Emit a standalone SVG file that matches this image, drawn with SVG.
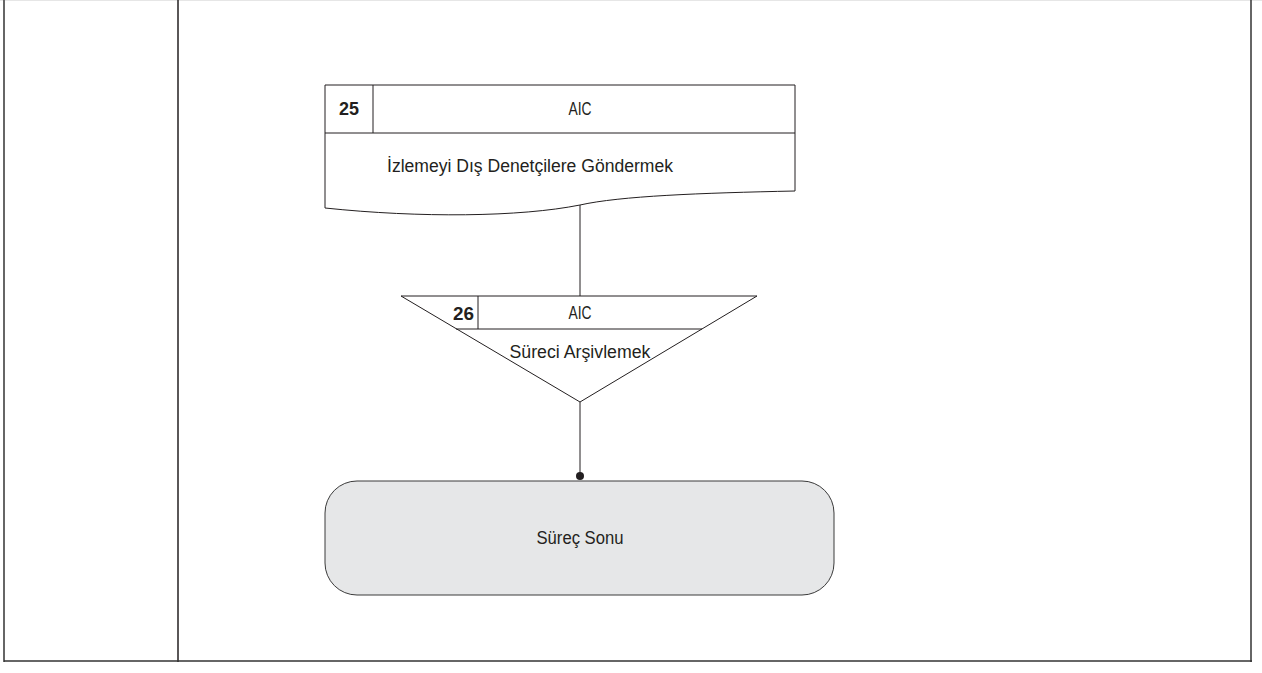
<svg xmlns="http://www.w3.org/2000/svg" width="1262" height="673" viewBox="0 0 1262 673">
<style>
.ln{fill:none;stroke:#231f20;stroke-width:1}
.box{fill:#fff;stroke:#231f20;stroke-width:1}
.t{font-family:"Liberation Sans",Arial,sans-serif;font-size:18px;fill:#231f20;text-anchor:middle}
.n{font-family:"Liberation Sans",Arial,sans-serif;font-size:19px;font-weight:bold;fill:#231f20}
</style>
<rect width="1262" height="673" fill="#fff"/>
<g id="frame">
<line x1="0" y1="0.5" x2="1262" y2="0.5" stroke="#e6e6e6" stroke-width="1"/>
<line x1="4" y1="0" x2="4" y2="662" stroke="#666" stroke-width="2"/>
<line x1="178" y1="0" x2="178" y2="662" stroke="#231f20" stroke-width="1.5"/>
<line x1="1251" y1="0" x2="1251" y2="662" stroke="#333" stroke-width="1.5"/>
<line x1="4" y1="661" x2="1252" y2="661" stroke="#333" stroke-width="1.5"/>
</g>
<g id="connectors">
<line class="ln" x1="580" y1="205" x2="580" y2="296"/>
<line class="ln" x1="580" y1="402" x2="580" y2="476"/>
<circle cx="580" cy="476" r="4" fill="#231f20"/>
</g>
<g id="node25">
<path class="box" d="M325,85 H795 V191 C700,193 620,196 580,205 C520,217 420,218 325,208 Z"/>
<line class="ln" x1="325" y1="133" x2="795" y2="133"/>
<line class="ln" x1="373" y1="85" x2="373" y2="133"/>
<text class="n" x="349" y="115" text-anchor="middle" textLength="20" lengthAdjust="spacingAndGlyphs">25</text>
<text class="t" x="580" y="115" textLength="23" lengthAdjust="spacingAndGlyphs">AIC</text>
<text class="t" x="530" y="172" textLength="286" lengthAdjust="spacingAndGlyphs">İzlemeyi Dış Denetçilere Göndermek</text>
</g>
<g id="node26">
<path class="box" d="M401,296 H757 L580,402 Z"/>
<line class="ln" x1="456" y1="329" x2="702" y2="329"/>
<line class="ln" x1="478" y1="296" x2="478" y2="329"/>
<text class="n" x="474" y="320" text-anchor="end" textLength="21" lengthAdjust="spacingAndGlyphs">26</text>
<text class="t" x="580" y="319" textLength="23" lengthAdjust="spacingAndGlyphs">AIC</text>
<text class="t" x="580" y="358" textLength="141" lengthAdjust="spacingAndGlyphs">Süreci Arşivlemek</text>
</g>
<g id="end">
<rect x="325" y="481" width="509" height="114" rx="32" ry="32" fill="#e6e7e8" stroke="#3a3a3a" stroke-width="1"/>
<text class="t" x="580" y="544" textLength="87" lengthAdjust="spacingAndGlyphs">Süreç Sonu</text>
</g>
</svg>
